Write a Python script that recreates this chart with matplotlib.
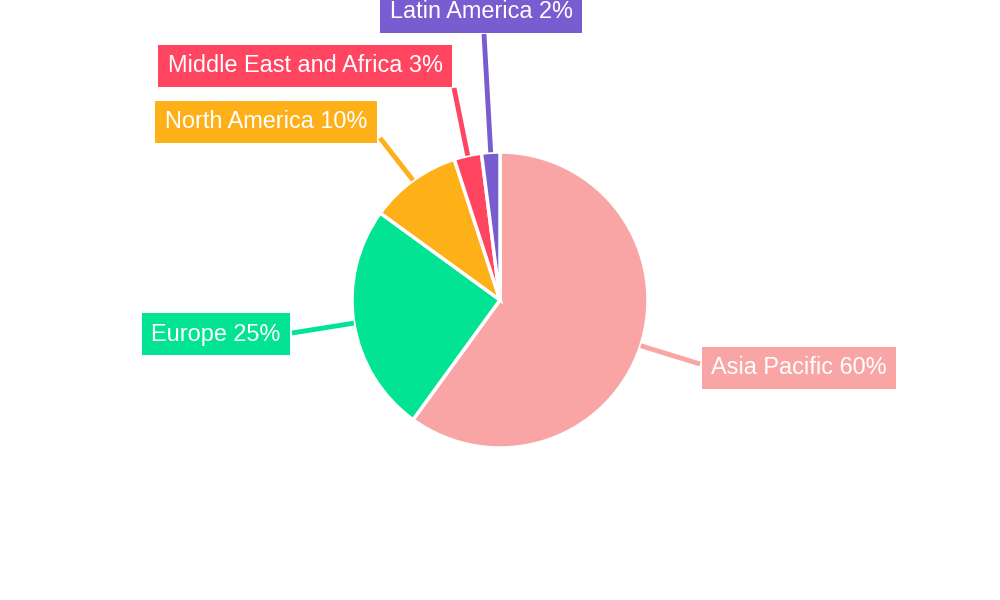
import matplotlib
matplotlib.use("Agg")
import matplotlib.pyplot as plt
import numpy as np

categories = ["Asia Pacific", "Europe", "North America", "Middle East and Africa", "Latin America"]
values = [60, 25, 10, 3, 2]
colors = ["#F9A5A6", "#02E394", "#FEB019", "#FF4560", "#775DD0"]
label_pos = [(799, 232), (216, 266), (266, 478), (305, 534), (481, 588)]
line_end = [(700, 236), (292, 267), (380, 462), (454, 512), (484, 566)]

plt.rcParams['font.family'] = ['Liberation Sans', 'DejaVu Sans']
fig = plt.figure(figsize=(10, 6), dpi=100)
ax = fig.add_axes([0, 0, 1, 1])
cx, cy, r = 500, 300, 148
ax.pie(values, colors=colors, startangle=90, counterclock=False, center=(cx, cy),
       radius=r, wedgeprops=dict(edgecolor='white', linewidth=2.5), frame=True)
ax.set_xlim(0, 1000); ax.set_ylim(0, 600); ax.set_aspect('equal'); ax.axis('off')

total = sum(values)
start = 90.0
for cat, v, c, (lx, ly), (ex, ey) in zip(categories, values, colors, label_pos, line_end):
    span = 360 * v / total
    mid = np.deg2rad(start - span / 2)
    start -= span
    px, py = cx + r * np.cos(mid), cy + r * np.sin(mid)
    ax.plot([px, ex], [py, ey], color=c, lw=3.5, solid_capstyle='butt', zorder=1)
    ax.text(lx, ly, f"{cat} {v}%", ha='center', va='center', color='white',
            fontsize=23.5 * 72 / 100, zorder=3,
            bbox=dict(boxstyle='square,pad=0.4', fc=c, ec='none'))
fig.savefig("out.png", dpi=100)
